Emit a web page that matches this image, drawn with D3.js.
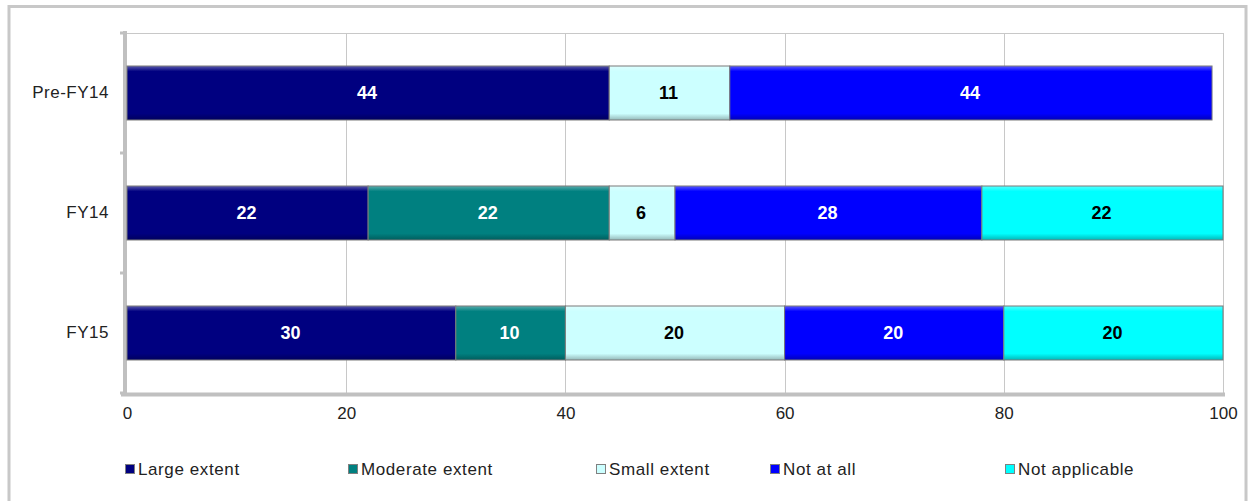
<!DOCTYPE html>
<html><head><meta charset="utf-8">
<script src="https://cdn.jsdelivr.net/npm/d3@7"></script>
<style>body{margin:0;background:#fff}svg{display:block;font-family:"Liberation Sans",Arial,sans-serif}</style>
</head><body><svg id="c" width="1249" height="501"></svg>
<script>
const categories = ["Pre-FY14", "FY14", "FY15"];
const seriesNames = ["Large extent", "Moderate extent", "Small extent", "Not at all", "Not applicable"];
const largeExtent = [44, 22, 30];
const moderateExtent = [0, 22, 10];
const smallExtent = [11, 6, 20];
const notAtAll = [44, 28, 20];
const notApplicable = [0, 22, 20];
const xTicks = [0, 20, 40, 60, 80, 100];
const colors = ["#000080", "#008080", "#ccffff", "#0000ff", "#00ffff"];
const labelColors = ["#fff", "#fff", "#000", "#fff", "#000"];

const seriesValues = [largeExtent, moderateExtent, smallExtent, notAtAll, notApplicable];
const rows = categories.map((c, i) => {
  const o = {cat: c};
  seriesNames.forEach((s, j) => o[s] = seriesValues[j][i]);
  return o;
});
const stacked = d3.stack().keys(seriesNames)(rows);

const svg = d3.select("#c");
// outer border
svg.append("rect").attr("x", 9).attr("y", 6.5).attr("width", 1237).attr("height", 500)
  .attr("fill", "#fff").attr("stroke", "#c8c8c8").attr("stroke-width", 3);

const L = 127, R = 1223, T = 33, B = 393;
const x = d3.scaleLinear().domain([0, 100]).range([L, R]);
const y = d3.scaleBand().domain(categories).range([T, B]).paddingInner(0.55).paddingOuter(0.275);
const FONT = "Liberation Sans, Arial, sans-serif";

// plot frame top/right
svg.append("line").attr("x1", L).attr("x2", R).attr("y1", T + 0.5).attr("y2", T + 0.5).attr("stroke", "#c8c8c8");
svg.append("line").attr("x1", R + 0.5).attr("x2", R + 0.5).attr("y1", T).attr("y2", B).attr("stroke", "#c8c8c8");
// gridlines
svg.append("g").selectAll("line").data(xTicks.slice(1, -1)).join("line")
  .attr("x1", d => Math.round(x(d)) + 0.5).attr("x2", d => Math.round(x(d)) + 0.5)
  .attr("y1", T).attr("y2", B).attr("stroke", "#c8c8c8");

// x axis
const xAxis = d3.axisBottom(x).tickValues(xTicks).tickSize(0).tickPadding(14);
const gx = svg.append("g").attr("transform", `translate(0,${B})`).call(xAxis);
gx.select(".domain").remove();
gx.selectAll("text").attr("font-size", 17).attr("fill", "#222").attr("font-family", FONT);
svg.append("line").attr("x1", L - 6).attr("x2", R + 2).attr("y1", B + 1.5).attr("y2", B + 1.5)
  .attr("stroke", "#c0c0c0").attr("stroke-width", 4);

// y axis
const yAxis = d3.axisLeft(y).tickSize(0).tickPadding(18);
const gy = svg.append("g").attr("transform", `translate(${L},0)`).call(yAxis);
gy.select(".domain").remove();
gy.selectAll("text").attr("font-size", 17).attr("fill", "#222").attr("font-family", FONT).attr("letter-spacing", 0.5);
svg.append("line").attr("x1", L - 2).attr("x2", L - 2).attr("y1", T - 2).attr("y2", B + 3)
  .attr("stroke", "#c0c0c0").attr("stroke-width", 4);
const bandStep = (B - T) / categories.length;
svg.append("g").selectAll("line").data(d3.range(categories.length + 1)).join("line")
  .attr("x1", L - 7).attr("x2", L - 2).attr("y1", d => T + d * bandStep).attr("y2", d => T + d * bandStep)
  .attr("stroke", "#c0c0c0").attr("stroke-width", 3);

// bars
const defs = svg.append("defs");
colors.forEach((c, i) => {
  const g = defs.append("linearGradient").attr("id", "g" + i).attr("x1", 0).attr("x2", 0).attr("y1", 0).attr("y2", 1);
  const cc = d3.color(c);
  g.append("stop").attr("offset", "0%").attr("stop-color", d3.interpolateRgb(c, "#fff")(0.35));
  g.append("stop").attr("offset", "10%").attr("stop-color", c);
  g.append("stop").attr("offset", "88%").attr("stop-color", c);
  g.append("stop").attr("offset", "100%").attr("stop-color", cc.darker(0.9));
});

stacked.forEach((layer, i) => {
  const g = svg.append("g");
  const segs = layer.map((d, j) => ({x0: d[0], x1: d[1], cat: categories[j], v: seriesValues[i][j]})).filter(d => d.v > 0);
  g.selectAll("rect").data(segs).join("rect")
    .attr("x", d => x(d.x0)).attr("width", d => x(d.x1) - x(d.x0))
    .attr("y", d => y(d.cat)).attr("height", y.bandwidth())
    .attr("fill", `url(#g${i})`).attr("stroke", "#7a7a7a").attr("stroke-width", 1);
  g.selectAll("text").data(segs).join("text")
    .attr("x", d => (x(d.x0) + x(d.x1)) / 2 - 1).attr("y", d => y(d.cat) + y.bandwidth() / 2)
    .attr("dy", "0.36em").attr("text-anchor", "middle")
    .attr("font-size", 18).attr("font-weight", "bold").attr("fill", labelColors[i])
    .text(d => d.v);
});

// legend
const legendX = [125, 348, 596, 770, 1005];
const lg = svg.append("g").selectAll("g").data(seriesNames).join("g")
  .attr("transform", (d, i) => `translate(${legendX[i]},469)`);
lg.append("rect").attr("x", 0.5).attr("y", -4.5).attr("width", 9).attr("height", 9)
  .attr("fill", (d, i) => colors[i]).attr("stroke", "#808080");
lg.append("text").attr("x", 13).attr("y", 0).attr("dy", "0.36em")
  .attr("font-size", 17).attr("fill", "#222").attr("font-family", FONT).attr("letter-spacing", 0.6).text(d => d);
</script></body></html>
